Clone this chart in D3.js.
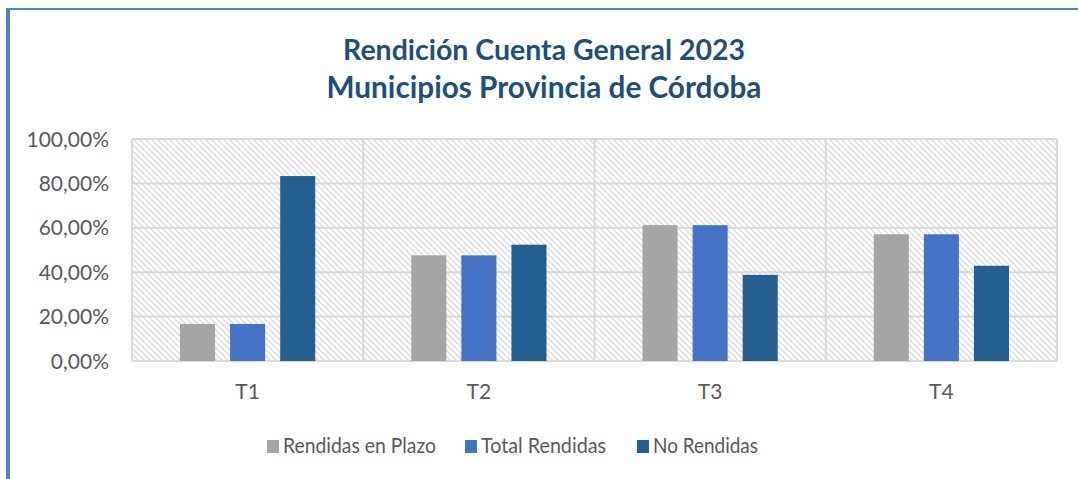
<!DOCTYPE html>
<html>
<head>
<meta charset="utf-8">
<script src="https://cdn.jsdelivr.net/npm/d3@7"></script>
<style>
	body { margin: 0; background: #fff; }
	svg { display: block; }
	text { font-family: Lato, "Open Sans", sans-serif; }
</style>
</head>
<body>
<svg width="1078" height="479"></svg>
<script>
// data
let categories = ['T1', 'T2', 'T3', 'T4']
let series = ['Rendidas en Plazo', 'Total Rendidas', 'No Rendidas']
let colors = ['#A5A5A5', '#4472C4', '#255E91']
let rendidasEnPlazo = [16.7, 47.6, 61.2, 57.1]
let totalRendidas = [16.7, 47.6, 61.2, 57.1]
let noRendidas = [83.3, 52.4, 38.8, 42.9]
let yTicks = [0, 20, 40, 60, 80, 100]
let titleLines = ['Rendición Cuenta General 2023', 'Municipios Provincia de Córdoba']

let values = [rendidasEnPlazo, totalRendidas, noRendidas]
let data = categories.map((c, i) => ({
	cat: c,
	vals: series.map((s, j) => ({ key: s, i: j, v: values[j][i] }))
}))

let svg = d3.select('svg')

// scale a text to a target width
let fit = (sel, w) => {
	let fs = parseFloat(sel.attr('font-size'))
	let cur = sel.node().getComputedTextLength()
	sel.attr('font-size', (fs * w / cur).toFixed(2))
	return sel
}

// outer frame (left + top edges visible)
svg.append('line').attr('x1', 8).attr('x2', 8).attr('y1', 8).attr('y2', 479)
	.attr('stroke', '#4F81C6').attr('stroke-width', 4)
svg.append('line').attr('x1', 6).attr('x2', 1078).attr('y1', 9).attr('y2', 9)
	.attr('stroke', '#4F81C6').attr('stroke-width', 2)

// hatch
let defs = svg.append('defs')
let pat = defs.append('pattern').attr('id', 'hatch')
	.attr('patternUnits', 'userSpaceOnUse').attr('width', 6).attr('height', 6)
pat.append('rect').attr('width', 6).attr('height', 6).attr('fill', '#fff')
pat.append('path').attr('d', 'M-1,-1 L7,7 M-4,2 L2,8 M4,-2 L8,2')
	.attr('stroke', '#DCDCDC').attr('stroke-width', 1.4)

let m = { left: 132, right: 1057, top: 139, bottom: 361 }

let x0 = d3.scaleBand().domain(categories).range([m.left, m.right]).padding(0)
let x1 = d3.scaleBand().domain(series)
	.range([48, x0.bandwidth() - 48]).paddingInner(0.3).paddingOuter(0)
let y = d3.scaleLinear().domain([0, 100]).range([m.bottom, m.top])

svg.append('rect')
	.attr('x', m.left).attr('y', m.top)
	.attr('width', m.right - m.left).attr('height', m.bottom - m.top)
	.attr('fill', 'url(#hatch)')

// grid
let grid = svg.append('g')
grid.selectAll('line.h')
	.data(yTicks).enter()
	.append('line').attr('class', 'h')
	.attr('x1', m.left).attr('x2', m.right)
	.attr('y1', d => y(d)).attr('y2', d => y(d))
	.attr('stroke', '#D9D9D9').attr('stroke-width', 2)
grid.selectAll('line.v')
	.data(categories.concat(['end'])).enter()
	.append('line').attr('class', 'v')
	.attr('x1', (d, i) => i < categories.length ? x0(d) : m.right)
	.attr('x2', (d, i) => i < categories.length ? x0(d) : m.right)
	.attr('y1', m.top).attr('y2', m.bottom)
	.attr('stroke', '#D9D9D9').attr('stroke-width', 2)

// bars
let g = svg.append('g')
g.selectAll('g')
	.data(data).enter()
	.append('g')
	.attr('transform', d => `translate(${x0(d.cat)},0)`)
	.selectAll('rect')
	.data(d => d.vals).enter()
	.append('rect')
	.attr('x', d => x1(d.key))
	.attr('width', x1.bandwidth())
	.attr('y', d => y(d.v))
	.attr('height', d => y(0) - y(d.v))
	.attr('fill', d => colors[d.i])

// y labels
let fmt = d => d3.format('.2f')(d).replace('.', ',') + '%'
svg.append('g').selectAll('text')
	.data(yTicks).enter()
	.append('text')
	.attr('x', 109).attr('y', d => y(d))
	.attr('dy', '0.36em')
	.attr('text-anchor', 'end')
	.attr('font-size', 21)
	.attr('fill', '#595959')
	.text(fmt)

// x labels
svg.append('g').selectAll('text')
	.data(categories).enter()
	.append('text')
	.attr('x', d => x0(d) + x0.bandwidth() / 2)
	.attr('y', 399)
	.attr('text-anchor', 'middle')
	.attr('font-size', 21)
	.attr('fill', '#595959')
	.text(d => d)

// title
let tw = [402, 435]
svg.append('g').selectAll('text')
	.data(titleLines).enter()
	.append('text')
	.attr('x', 544).attr('y', (d, i) => 60 + i * 38)
	.attr('text-anchor', 'middle')
	.attr('font-size', 28)
	.attr('font-weight', 'bold')
	.attr('fill', '#1F4E79')
	.text(d => d)
	.each(function(d, i) { fit(d3.select(this), tw[i]) })

// legend
let legX = [267, 465, 637]
let legW = [153, 125, 105]
let leg = svg.append('g').selectAll('g')
	.data(series).enter()
	.append('g')
	.attr('transform', (d, i) => `translate(${legX[i]},440)`)
leg.append('rect').attr('width', 12).attr('height', 13).attr('fill', (d, i) => colors[i])
leg.append('text')
	.attr('x', 16).attr('y', 12.8)
	.attr('font-size', 21)
	.attr('fill', '#595959')
	.attr('textLength', (d, i) => legW[i])
	.attr('lengthAdjust', 'spacingAndGlyphs')
	.text(d => d)
</script>
</body>
</html>
